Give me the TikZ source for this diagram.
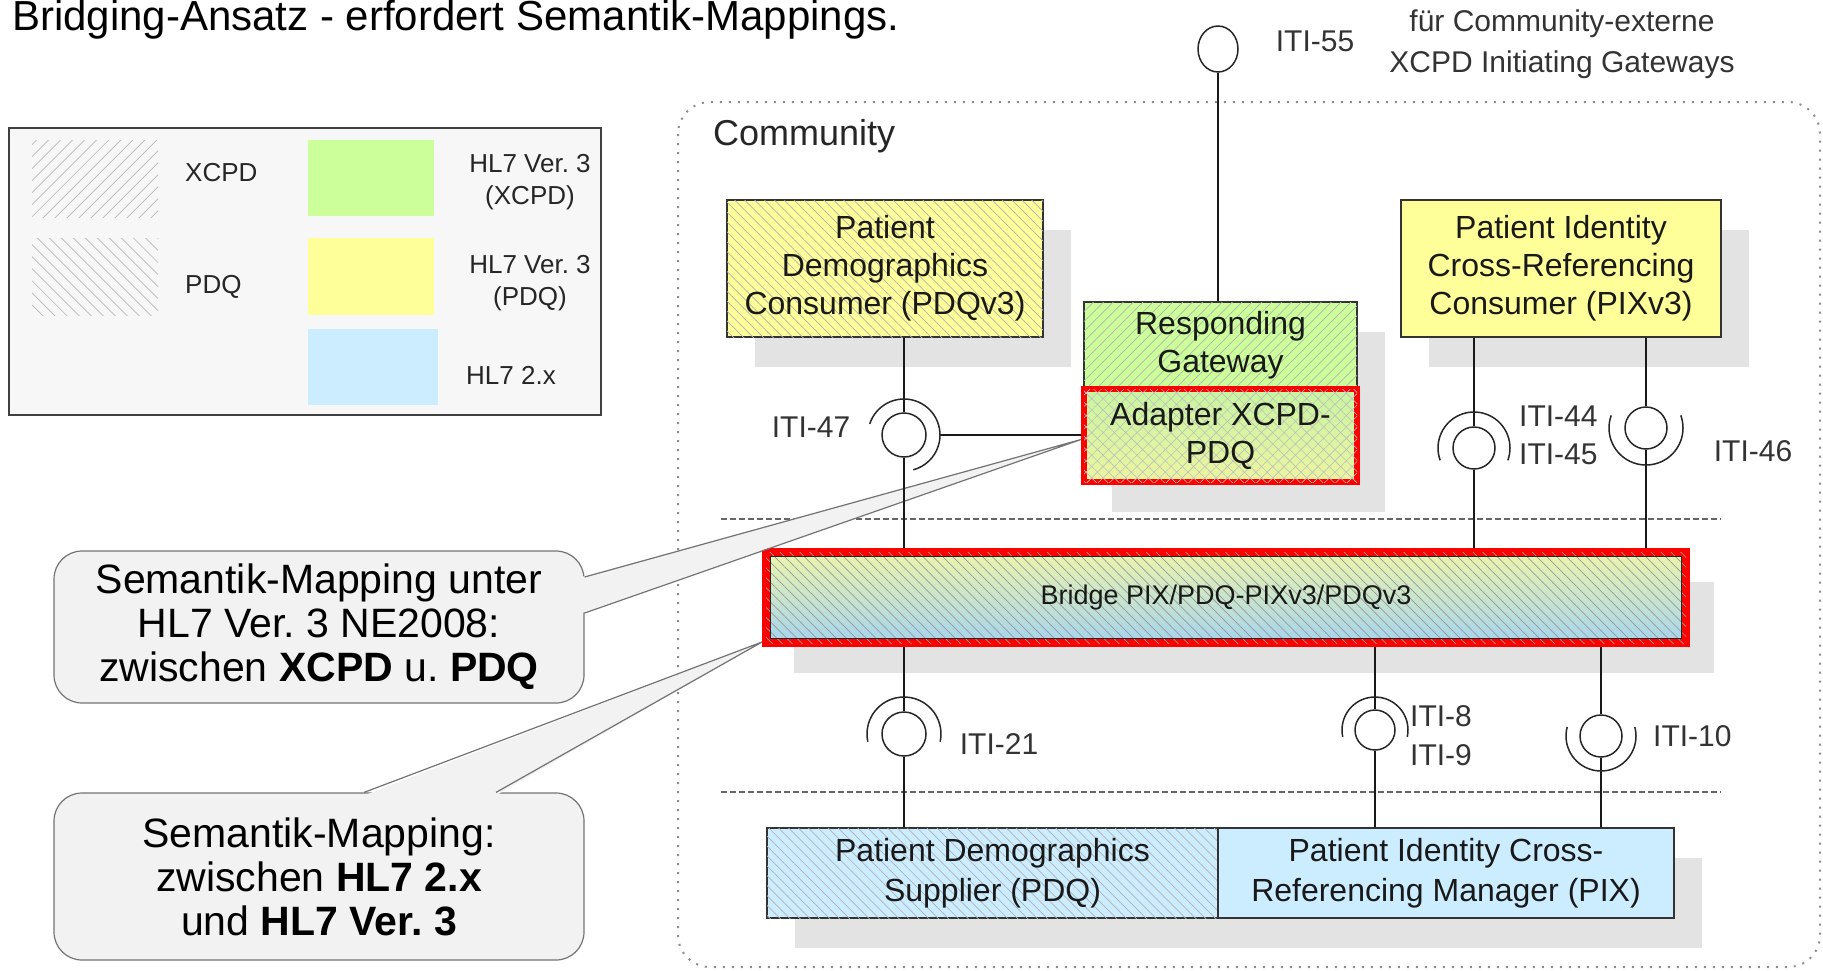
\documentclass[tikz,border=0pt]{standalone}
\usepackage{fontspec}
\setmainfont{Liberation Sans}
\usetikzlibrary{positioning,calc,patterns.meta,shadows,shapes.geometric}
\frenchspacing

\definecolor{pdqyellow}{RGB}{255,255,153}
\definecolor{xcpdgreen}{RGB}{204,255,153}
\definecolor{hlblue}{RGB}{204,236,255}
\definecolor{legendbg}{RGB}{247,247,247}
\definecolor{shadowgray}{RGB}{227,227,227}
\definecolor{calloutbg}{RGB}{242,242,242}
\definecolor{bridgetop}{RGB}{236,245,170}
\definecolor{bridgebot}{RGB}{165,212,240}
\definecolor{adaptop}{RGB}{200,245,160}
\definecolor{adapbot}{RGB}{236,245,160}

\begin{document}
\begin{tikzpicture}[x=1pt,y=-1pt,
  box/.style={draw=black!80, line width=1.5pt, align=center, inner sep=0pt,
              text=black!90, font=\fontsize{32}{38}\selectfont,
              drop shadow={shadow xshift=28pt, shadow yshift=-30pt,
                           fill=shadowgray, opacity=1}},
  redbox/.style={box, draw=red, line width=6pt},
  pdqlines/.style={postaction={pattern={Lines[angle=-45,distance=7pt,line width=0.7pt]},
                   pattern color=black!30}},
  xcpdlines/.style={postaction={pattern={Lines[angle=45,distance=7pt,line width=0.7pt]},
                    pattern color=black!30}},
  crosslines/.style={postaction={pattern={Hatch[angle=45,distance=8pt,line width=0.6pt]},
                     pattern color=black!25}},
  ball/.style={circle, draw=black!85, fill=white, line width=1.5pt,
               minimum size=42pt, inner sep=0pt},
  socket/.style={draw=black!85, line width=1.5pt},
  wire/.style={draw=black!90, line width=2.5pt},
  iti/.style={text=black!80, font=\fontsize{30}{38}\selectfont, align=left, inner sep=0pt},
  legendtext/.style={text=black!85, font=\fontsize{26}{32}\selectfont, align=center, inner sep=0pt},
  callout/.style={draw=black!55, fill=calloutbg, line width=1.2pt, rounded corners=28pt,
                  align=center, inner sep=0pt, font=\fontsize{41}{44}\selectfont},
  calloutline/.style={draw=black!55, line width=1.2pt},
  layer/.style={dash pattern=on 6pt off 3pt, draw=black!60, line width=2pt}
]
  \useasboundingbox (0,0) rectangle (1823,970);

  % Community frame
  \draw[black!45, line width=2pt, dash pattern=on 2pt off 7pt, rounded corners=32pt]
    (678,102) rectangle (1820,967);
  \node[anchor=west, inner sep=0pt, font=\fontsize{36}{40}\selectfont, text=black!85]
    (community) at (713,136) {Community};

  % Title
  \node[anchor=base west, inner sep=0pt, font=\fontsize{42}{44}\selectfont]
    (title) at (12,30) {Bridging-Ansatz - erfordert Semantik-Mappings.};

  % Legend
  \draw[draw=black!75, fill=legendbg, line width=1.5pt] (9,128) rectangle (601,415);
  \path[pattern={Lines[angle=45,distance=8.5pt,line width=0.7pt]}, pattern color=black!28]
    (32,140) rectangle (158,217);
  \path[pattern={Lines[angle=-45,distance=8.5pt,line width=0.7pt]}, pattern color=black!28]
    (32,238) rectangle (158,315);
  \fill[xcpdgreen] (308,140) rectangle (434,216);
  \fill[pdqyellow] (308,238) rectangle (434,315);
  \fill[hlblue] (308,329) rectangle (438,405);
  \node[legendtext, anchor=west] (lxcpd) at (185,173) {XCPD};
  \node[legendtext, anchor=west] (lpdq) at (185,287) {PDQ};
  \node[legendtext] (lv3x) at (530,182) {HL7 Ver. 3\\(XCPD)};
  \node[legendtext] (lv3p) at (530,283) {HL7 Ver. 3\\(PDQ)};
  \node[legendtext, anchor=west] (lv2) at (466,375) {HL7 2.x};

  % Actors above the bridge
  \node[box, fill=pdqyellow, pdqlines, minimum width=316pt, minimum height=137pt]
    (pdc) at (885,268.5) {Patient\\Demographics\\Consumer (PDQv3)};
  \node[box, fill=xcpdgreen, xcpdlines, minimum width=273pt, minimum height=87pt]
    (gw) at (1220.5,345.5) {Responding\\Gateway};
  \node[redbox, top color=adaptop, bottom color=adapbot, crosslines,
        minimum width=273pt, minimum height=93pt]
    (adapter) at (1220.5,435.5) {Adapter XCPD-\\PDQ};
  \node[box, fill=pdqyellow, minimum width=320pt, minimum height=137pt]
    (pixc) at (1561,268.5) {Patient Identity\\Cross-Referencing\\Consumer (PIXv3)};

  % Bridge
  \node[redbox, line width=8pt, top color=bridgetop, bottom color=bridgebot,
        postaction={pattern={Lines[angle=-45,distance=7pt,line width=0.7pt]},
                    pattern color=black!40},
        minimum width=920pt, minimum height=91pt, font=\fontsize{27}{32}\selectfont]
    (bridge) at (1226,597.5) {Bridge PIX/PDQ-PIXv3/PDQv3};
  \draw[black!85, line width=1.2pt] ([shift={(8.5pt,-8.5pt)}]bridge.north west)
    rectangle ([shift={(-8.5pt,8.5pt)}]bridge.south east);

  % Actors below the bridge
  \node[box, fill=hlblue, pdqlines, minimum width=451pt, minimum height=90pt,
        font=\fontsize{32}{40}\selectfont]
    (pds) at (992.5,873) {Patient Demographics\\Supplier (PDQ)};
  \node[box, fill=hlblue, minimum width=456pt, minimum height=90pt,
        font=\fontsize{32}{40}\selectfont]
    (pixm) at (1446,873) {Patient Identity Cross-\\Referencing Manager (PIX)};

  % Layer separators
  \draw[layer] (721,519) -- (1721,519);
  \draw[layer] (721,792) -- (1721,792);

  % Callouts
  \node[callout, minimum width=530pt, minimum height=152pt] (map1) at (319,627)
    {Semantik-Mapping unter\\HL7 Ver. 3 NE2008:\\zwischen \textbf{XCPD} u. \textbf{PDQ}};
  \fill[calloutbg] ($(map1.east)+(-3,-50)$) -- ([yshift=-4pt]adapter.west)
    -- ($(map1.east)+(-3,-14)$) -- cycle;
  \draw[calloutline] ($(map1.east)+(0,-50)$) -- ([yshift=-4pt]adapter.west)
    -- ($(map1.east)+(0,-14)$);

  \node[callout, minimum width=530pt, minimum height=167pt] (map2) at (319,876.5)
    {Semantik-Mapping:\\zwischen \textbf{HL7 2.x}\\und \textbf{HL7 Ver. 3}};
  \fill[calloutbg] ($(map2.north)+(45,3)$) -- ([yshift=5pt]bridge.south west)
    -- ($(map2.north)+(177,3)$) -- cycle;
  \draw[calloutline] ($(map2.north)+(45,0)$) -- ([yshift=5pt]bridge.south west)
    -- ($(map2.north)+(177,0)$);

  % Interfaces: balls
  \node[ball, ellipse, minimum width=40pt, minimum height=46pt] (i55) at (1218,49) {};
  \node[ball, minimum size=44pt] (i47) at (904,435) {};
  \node[ball] (i44) at (1474,448) {};
  \node[ball] (i46) at (1646,428) {};
  \node[ball, minimum size=44pt] (i21) at (904,734) {};
  \node[ball, minimum size=40pt] (i8) at (1375,730) {};
  \node[ball] (i10) at (1601,736) {};

  % Interfaces: wires
  \draw[wire, line width=1.5pt] (i55.south) -- (i55.south |- gw.north);
  \draw[wire] (pdc.south -| i47) -- (i47.north);
  \draw[wire] (i47.south) -- (i47 |- bridge.north);
  \draw[wire] ([xshift=36pt]i47.center) -- (i47 -| adapter.west);
  \foreach \i in {i44,i46} {
    \draw[wire] (pixc.south -| \i) -- (\i.north);
    \draw[wire] (\i.south) -- (\i |- bridge.north);
  }
  \draw[wire] (bridge.south -| i21) -- (i21.north);
  \draw[wire] (i21.south) -- (i21 |- pds.north);
  \foreach \i in {i8,i10} {
    \draw[wire] (bridge.south -| \i) -- (\i.north);
    \draw[wire] (\i.south) -- (\i |- pixm.north);
  }

  % Interfaces: sockets
  \draw[socket] (i47.center) ++(-162:36) arc[start angle=-162, end angle=75, radius=36];
  \draw[socket] (i44.center) ++(160:36) arc[start angle=160, end angle=380, radius=36];
  \draw[socket] (i46.center) ++(200:37) arc[start angle=200, end angle=-20, radius=37];
  \draw[socket] (i21.center) ++(168:37) arc[start angle=168, end angle=372, radius=37];
  \draw[socket] (i8.center) ++(168:33) arc[start angle=168, end angle=372, radius=33];
  \draw[socket] (i10.center) ++(195:35) arc[start angle=195, end angle=-15, radius=35];

  % Interface labels
  \node[iti] (l55) at (1315,41) {ITI-55};
  \node[iti, align=center, font=\fontsize{30}{41}\selectfont] (ext) at (1562,44)
    {für Community-externe\\XCPD Initiating Gateways};
  \node[iti] (l47) at (811,427) {ITI-47};
  \node[iti, anchor=west] (l44) at (1519,435) {ITI-44\\ITI-45};
  \node[iti] (l46) at (1753,451) {ITI-46};
  \node[iti] (l21) at (999,744) {ITI-21};
  \node[iti, anchor=west, font=\fontsize{30}{39}\selectfont] (l8) at (1410,736) {ITI-8\\ITI-9};
  \node[iti, anchor=west] (l10) at (1653,736) {ITI-10};
\end{tikzpicture}
\end{document}
